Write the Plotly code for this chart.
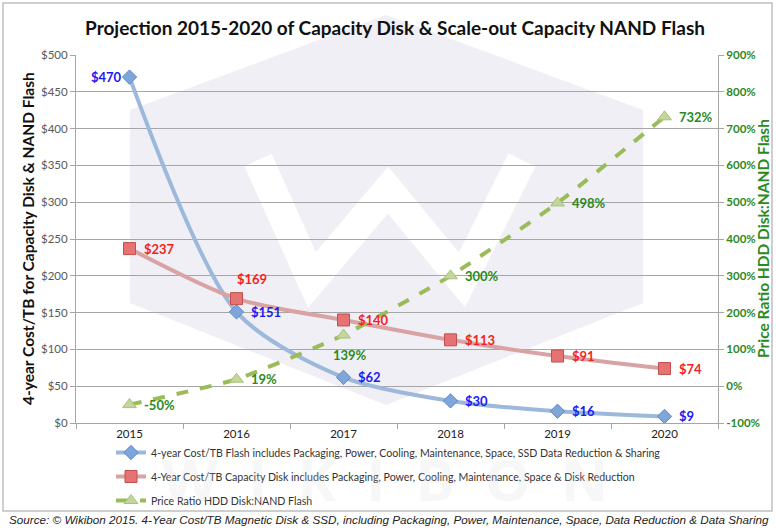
import plotly.graph_objects as go

years = ["2015", "2016", "2017", "2018", "2019", "2020"]
flash_cost = [470, 151, 62, 30, 16, 9]
disk_cost = [237, 169, 140, 113, 91, 74]
price_ratio = [-50, 19, 139, 300, 498, 732]

flash_labels = ["$470", "$151", "$62", "$30", "$16", "$9"]
disk_labels = ["$237", "$169", "$140", "$113", "$91", "$74"]
ratio_labels = ["-50%", "19%", "139%", "300%", "498%", "732%"]

left_ticks = [0, 50, 100, 150, 200, 250, 300, 350, 400, 450, 500]
left_ticktext = ["$" + str(v) for v in left_ticks]
right_ticks = [-100, 0, 100, 200, 300, 400, 500, 600, 700, 800, 900]
right_ticktext = [str(v) + "%" for v in right_ticks]

W, H = 776, 531
L, R, T, B = 76, 58, 55, 108
PW, PH = W - L - R, H - T - B


def px(x):
    return (x - L) / PW


def py(y):
    return (H - B - y) / PH


FONT = "Lato, Open Sans, sans-serif"
BLUE, RED, GREEN = "#1A1AF5", "#F51F1F", "#2A8A22"

fig = go.Figure()

fig.add_trace(go.Scatter(
    x=years, y=flash_cost, name="4-year Cost/TB Flash includes Packaging, Power, Cooling, Maintenance, Space, SSD Data Reduction & Sharing",
    mode="lines+markers", line=dict(color="#9CB8DA", width=4, shape="spline", smoothing=0.8),
    marker=dict(symbol="diamond", size=11, color="#7EA6DA", line=dict(color="#5B89C6", width=1)),
    legendgroup="a", cliponaxis=False,
))
fig.add_trace(go.Scatter(
    x=years, y=disk_cost, name="4-Year Cost/TB Capacity Disk includes Packaging, Power, Cooling, Maintenance, Space & Disk Reduction",
    mode="lines+markers", line=dict(color="#D9A3A3", width=4, shape="spline", smoothing=0.8),
    marker=dict(symbol="square", size=12, color="#E57373", line=dict(color="#C0504D", width=1)),
    legendgroup="b", cliponaxis=False,
))
fig.add_trace(go.Scatter(
    x=years, y=price_ratio, name="Price Ratio HDD Disk:NAND Flash", yaxis="y2",
    mode="lines+markers", line=dict(color="#9BBB59", width=4, dash="dash", shape="spline", smoothing=0.5),
    marker=dict(symbol="triangle-up", size=12, color="#C3D69B", line=dict(color="#A9C27A", width=1)),
    legendgroup="c", cliponaxis=False,
))

annotations = []


def add_labels(values, labels, color, yref, places):
    for i, (v, t) in enumerate(zip(values, labels)):
        p = places[i]
        a = dict(x=i, y=v, xref="x", yref=yref, text="<b>" + t + "</b>", showarrow=False,
                 font=dict(size=13, color=color, family=FONT))
        if p == "r":
            a.update(xanchor="left", yanchor="middle", xshift=12)
        elif p == "l":
            a.update(xanchor="right", yanchor="middle", xshift=-6)
        elif p == "t":
            a.update(xanchor="left", yanchor="bottom", xshift=-2, yshift=10)
        elif p == "b":
            a.update(xanchor="center", yanchor="top", xshift=6, yshift=-10)
        annotations.append(a)


add_labels(flash_cost, flash_labels, BLUE, "y", ["l", "r", "r", "r", "r", "r"])
add_labels(disk_cost, disk_labels, RED, "y", ["r", "t", "r", "r", "r", "r"])
add_labels(price_ratio, ratio_labels, GREEN, "y2", ["r", "r", "b", "r", "r", "r"])

shapes = [
    dict(type="path", xref="paper", yref="paper", layer="below",
         path=f"M {px(386)} {py(15)} L {px(643)} {py(110)} L {px(643)} {py(303)} L {px(386)} {py(405)} "
              f"L {px(130)} {py(303)} L {px(130)} {py(110)} Z",
         fillcolor="rgba(234,234,242,0.75)", line=dict(width=0)),
    dict(type="path", xref="paper", yref="paper", layer="below",
         path=f"M {px(258)} {py(160)} L {px(312)} {py(280)} L {px(388)} {py(190)} L {px(462)} {py(280)} L {px(522)} {py(160)}",
         line=dict(color="white", width=30), fillcolor="rgba(0,0,0,0)"),
    dict(type="rect", xref="paper", yref="paper", layer="below",
         x0=px(3), x1=px(772), y0=py(3), y1=py(511),
         line=dict(color="#BFBFBF", width=1.5)),
]

annotations += [
    dict(text="W  I  K  I  B  O  N", xref="paper", yref="paper", x=px(385), y=py(478), yanchor="middle",
         showarrow=False, font=dict(size=58, color="rgba(215,215,220,0.2)", family="Open Sans", weight="bold")),
    dict(text="Source: © Wikibon 2015. 4-Year Cost/TB Magnetic Disk & SSD, including Packaging, Power, Maintenance, Space, Data Reduction & Data Sharing",
         xref="paper", yref="paper", x=px(7), y=py(519), xanchor="left", yanchor="middle",
         showarrow=False, font=dict(size=11.7, color="#222222", family="Liberation Sans, Arial", style="italic")),
    dict(text="<b>4-year Cost/TB for Capacity Disk & NAND Flash</b>", xref="paper", yref="paper",
         x=px(28), y=py(239), textangle=-90, showarrow=False, xanchor="center", yanchor="middle",
         font=dict(size=15.5, color="#111111", family=FONT)),
    dict(text="<b>Price Ratio HDD Disk:NAND Flash</b>", xref="paper", yref="paper",
         x=px(763), y=py(239), textangle=-90, showarrow=False, xanchor="center", yanchor="middle",
         font=dict(size=15.5, color=GREEN, family=FONT)),
]

fig.update_layout(
    width=W, height=H,
    margin=dict(l=L, r=R, t=T, b=B, autoexpand=False),
    paper_bgcolor="white", plot_bgcolor="rgba(0,0,0,0)",
    title=dict(text="<b>Projection 2015-2020 of Capacity Disk & Scale-out Capacity NAND Flash</b>",
               x=395 / W, xanchor="center", y=1 - 28 / H, yanchor="middle", yref="container",
               font=dict(size=19, color="#111111", family=FONT)),
    xaxis=dict(type="category", range=[-0.5, 5.5], showgrid=False, automargin=False,
               showline=True, linecolor="#A6A6A6", ticks="outside", tickson="boundaries",
               tickcolor="#A6A6A6", ticklen=5,
               tickfont=dict(size=11.5, color="#222222", family=FONT)),
    yaxis=dict(range=[0, 500], tickvals=left_ticks, ticktext=left_ticktext, automargin=False,
               showgrid=True, gridcolor="#A6A6A6", gridwidth=1, zeroline=False,
               showline=True, linecolor="#A6A6A6", ticks="outside", tickcolor="#A6A6A6", ticklen=5,
               tickfont=dict(size=11.5, color="#595959", family=FONT)),
    yaxis2=dict(range=[-100, 900], tickvals=right_ticks, ticktext=right_ticktext, overlaying="y", side="right",
                showgrid=False, zeroline=False, automargin=False,
                showline=True, linecolor="#A6A6A6", ticks="outside", tickcolor="#A6A6A6", ticklen=5,
                tickfont=dict(size=11.5, color=GREEN, family=FONT, weight="bold")),
    showlegend=True,
    legend=dict(orientation="v", x=px(111), y=py(438), xanchor="left", yanchor="top",
                bgcolor="rgba(0,0,0,0)", tracegroupgap=5, itemwidth=30,
                font=dict(size=10.6, color="#333333", family=FONT)),
    shapes=shapes,
    annotations=annotations,
)

fig.write_html("out.html", config={"displayModeBar": False},
               post_script="document.body.style.margin='0';document.body.style.overflow='hidden';")
